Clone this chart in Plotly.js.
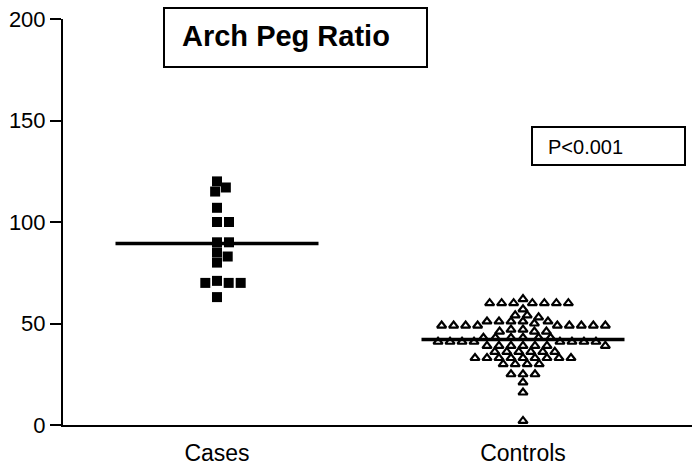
<!DOCTYPE html>
<html>
<head>
<meta charset="utf-8">
<script src="https://cdn.plot.ly/plotly-3.0.1.min.js"></script>
<style>html,body{margin:0;padding:0;background:#fff;}#chart{width:693px;height:468px;}</style>
</head>
<body>
<div id="chart"></div>
<script>
// ---- data ----
const categories = ["Cases", "Controls"];
const casesValues = [120, 117, 115, 107, 100, 100, 90, 90, 85, 83, 80, 71, 70, 70, 70, 63];
const controlsValues = [
  62,
  60, 60, 60, 60, 60, 60, 60,
  57,
  54, 54, 53,
  51, 51, 51, 50, 51, 51,
  49, 49, 49, 49, 49, 49, 49, 49, 49,
  47, 47, 46, 46, 46,
  43, 43, 43, 43, 43, 43,
  41, 41, 41, 41, 41, 41, 41, 41,
  39, 39, 39, 39, 39, 39, 39,
  36, 36, 36, 36, 36, 36,
  33, 33, 33, 33, 33, 33, 33, 33, 33,
  30, 30, 30, 30,
  25, 25, 25,
  21,
  16,
  2
];
const yTicks = [0, 50, 100, 150, 200];
const titleText = "Arch Peg Ratio";
const pText = "P<0.001";

// ---- layout geometry ----
const W = 693, H = 468;
const M = {l: 63, r: 1, t: 19, b: 43};
const plotW = W - M.l - M.r, plotH = H - M.t - M.b;
const yRange = [0, 200];
const pxPerY = plotH / (yRange[1] - yRange[0]);
const pxPerX = 306;
const x0 = 1 - (217 - M.l) / pxPerX;
const xRange = [x0, x0 + plotW / pxPerX];
const halfLine = 101.5 / pxPerX;

function swarm(values, a, b) {
  const placed = [];
  const out = [];
  values.forEach(v => {
    const y = v * pxPerY;
    const iv = [];
    let bal = 0;
    placed.forEach(p => {
      const dy = Math.abs(p.y - y);
      if (dy < b) {
        const w = a * Math.sqrt(1 - (dy / b) * (dy / b));
        iv.push([p.x - w, p.x + w]);
        bal += p.x;
      }
    });
    const cands = [0];
    iv.forEach(([l, r]) => cands.push(l, r));
    const ok = c => iv.every(([l, r]) => c <= l + 1e-6 || c >= r - 1e-6);
    const pref = bal > 0 ? -1 : 1;
    const good = cands.filter(ok).sort((c1, c2) => {
      const d = Math.abs(c1) - Math.abs(c2);
      if (Math.abs(d) > 1e-6) return d;
      return pref * (c2 - c1);
    });
    const x = good[0];
    placed.push({x, y});
    out.push(x);
  });
  return out;
}

const casesOff = swarm(casesValues, 12, 9);
const ctrlOff = swarm(controlsValues, 12, 6.5);
const casesX = casesOff.map(o => 1 + o / pxPerX);
const ctrlX = ctrlOff.map(o => 2 + o / pxPerX);
const mean = arr => arr.reduce((s, v) => s + v, 0) / arr.length;
const mCases = mean(casesValues), mCtrl = mean(controlsValues);

const font = "Liberation Sans, Arial, Helvetica, sans-serif";
const xp = px => (px - M.l) / plotW;
const yp = py => (H - M.b - py) / plotH;

const traces = [
  {x: [1 - halfLine, 1 + halfLine], y: [mCases, mCases], mode: "lines",
   line: {color: "#000", width: 3.5}, hoverinfo: "skip"},
  {x: [2 - halfLine, 2 + halfLine], y: [mCtrl, mCtrl], mode: "lines",
   line: {color: "#000", width: 3.5}, hoverinfo: "skip"},
  {x: casesX, y: casesValues, mode: "markers", name: categories[0],
   marker: {symbol: "square", size: 10, color: "#000"}},
  {x: ctrlX, y: controlsValues, mode: "markers", name: categories[1],
   marker: {symbol: "triangle-up-open", size: 8, color: "#000", line: {width: 2.2, color: "#000"}}}
];

const layout = {
  width: W, height: H,
  margin: M,
  paper_bgcolor: "#fff", plot_bgcolor: "#fff",
  showlegend: false,
  font: {family: font, color: "#000"},
  xaxis: {
    range: xRange, showgrid: false, zeroline: false,
    showline: true, linecolor: "#000", linewidth: 2,
    tickmode: "array", tickvals: [1, 2], ticktext: categories,
    ticks: "outside", ticklen: 6, tickcolor: "rgba(0,0,0,0)",
    tickfont: {size: 23, family: font, color: "#000"}
  },
  yaxis: {
    range: yRange, showgrid: false, zeroline: false,
    showline: true, linecolor: "#000", linewidth: 2,
    tickmode: "array", tickvals: yTicks,
    ticks: "outside", ticklen: 11, tickwidth: 2, tickcolor: "#000",
    tickfont: {size: 22, family: font, color: "#000"}
  },
  shapes: [
    {type: "rect", xref: "paper", yref: "paper", x0: xp(164), x1: xp(427), y0: yp(67), y1: yp(8),
     line: {color: "#000", width: 2}, fillcolor: "#fff", layer: "below"},
    {type: "rect", xref: "paper", yref: "paper", x0: xp(532), x1: xp(685), y0: yp(165), y1: yp(127),
     line: {color: "#000", width: 2}, fillcolor: "#fff", layer: "below"}
  ],
  annotations: [
    {xref: "paper", yref: "paper", x: xp(180), y: yp(36), xanchor: "left", yanchor: "middle",
     text: "<b>" + titleText + "</b>", showarrow: false,
     font: {size: 29, family: font, color: "#000"}},
    {xref: "paper", yref: "paper", x: xp(546), y: yp(147), xanchor: "left", yanchor: "middle",
     text: pText, showarrow: false,
     font: {size: 20, family: font, color: "#000"}}
  ]
};

Plotly.newPlot("chart", traces, layout, {staticPlot: true, displayModeBar: false});
</script>
</body>
</html>
